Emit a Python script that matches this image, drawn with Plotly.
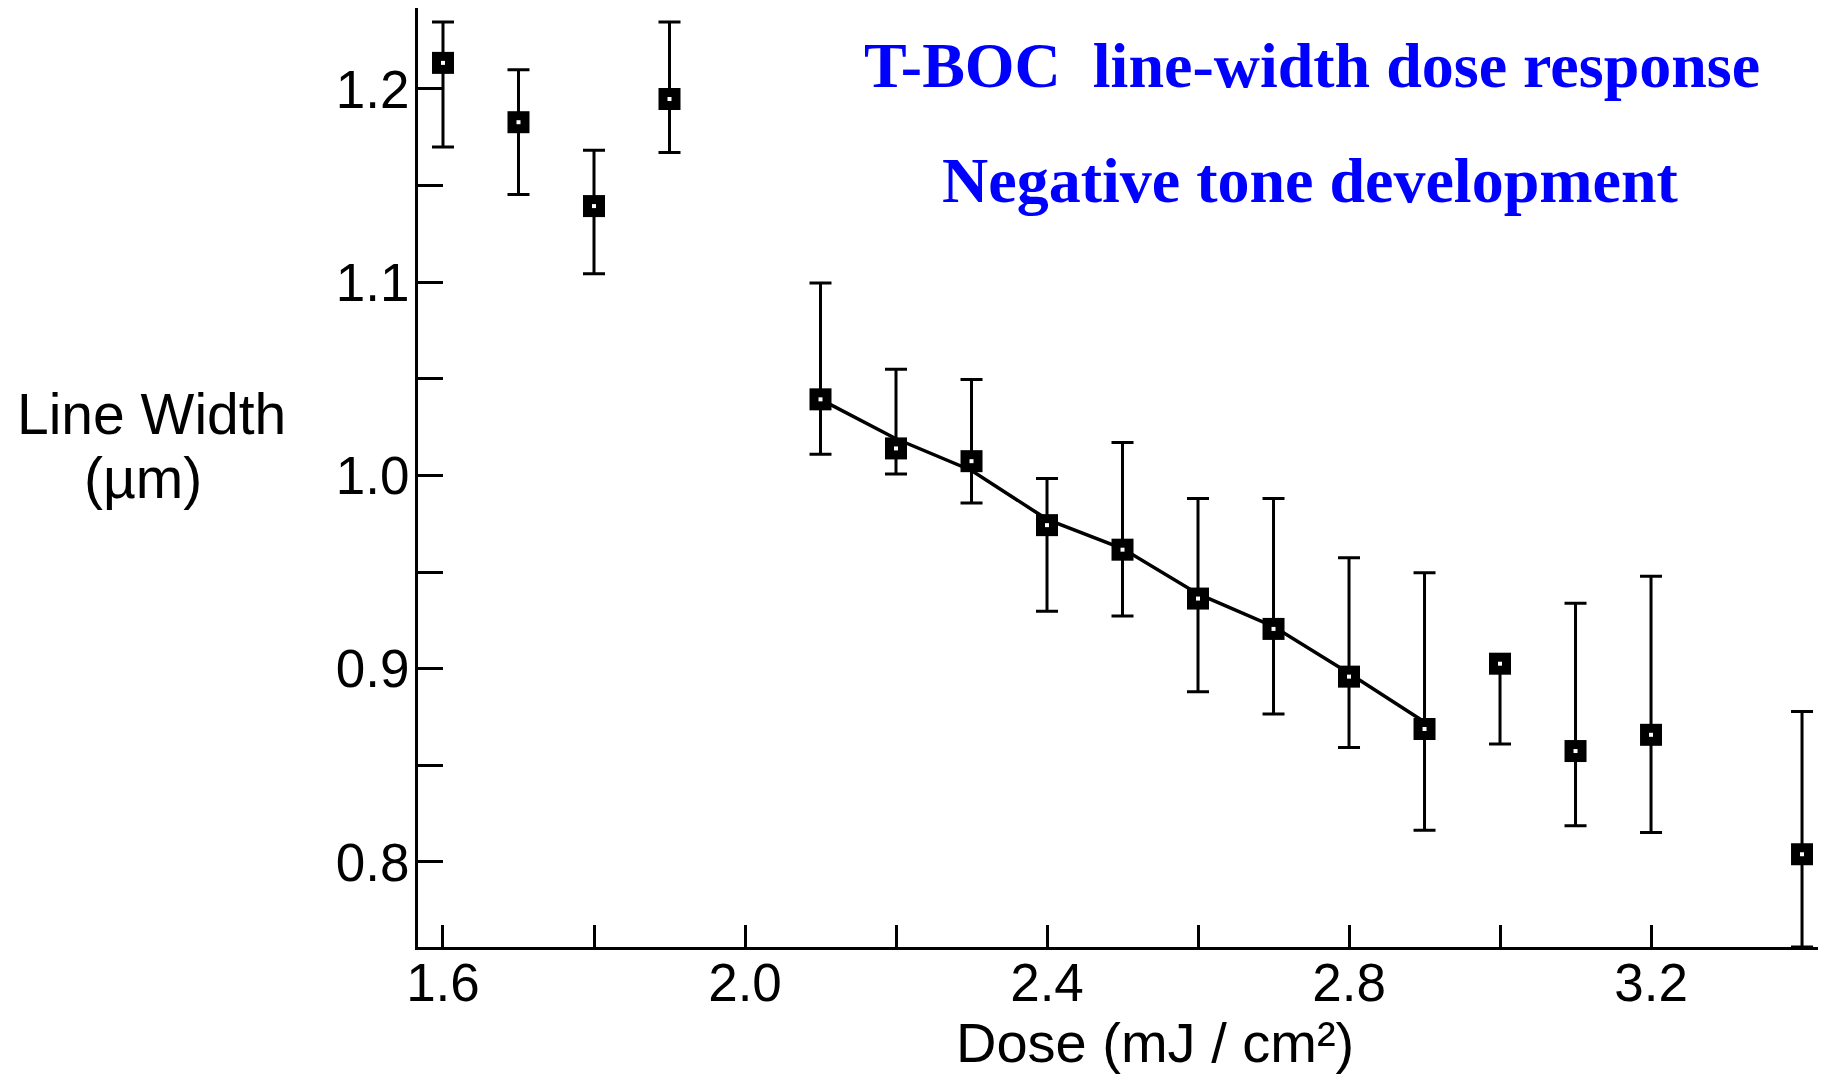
import plotly.graph_objects as go

# ---- data ----
dose = [1.6, 1.7, 1.8, 1.9, 2.1, 2.2, 2.3, 2.4, 2.5, 2.6, 2.7, 2.8, 2.9, 3.0, 3.1, 3.2, 3.4]
line_width = [1.2135, 1.1828, 1.1394, 1.1948, 1.0394, 1.0140, 1.0074, 0.9743, 0.9616, 0.9363,
              0.9206, 0.8959, 0.8688, 0.9026, 0.8574, 0.8658, 0.8040]
upper = [1.2347, 1.2099, 1.1683, 1.2346, 1.0996, 1.0550, 1.0496, 0.9984, 1.0171, 0.9881,
         0.9881, 0.9574, 0.9496, 0.9026, 0.9339, 0.9478, 0.8778]
lower = [1.1700, 1.1454, 1.1044, 1.1671, 1.0110, 1.0008, 0.9857, 0.9297, 0.9273, 0.8881,
         0.8766, 0.8592, 0.8164, 0.8610, 0.8188, 0.8152, 0.7560]

fit_dose = [2.1, 2.2, 2.3, 2.4, 2.5, 2.6, 2.7, 2.8, 2.9]
fit_lw = [1.0394, 1.0190, 1.0026, 0.9773, 0.9622, 0.9387, 0.9218, 0.8977, 0.8724]

x_tickvals = [1.6, 2.0, 2.4, 2.8, 3.2]
x_ticktext = ["1.6", "2.0", "2.4", "2.8", "3.2"]
x_minor_ticks = [1.8, 2.2, 2.6, 3.0]
y_tickvals = [0.8, 0.9, 1.0, 1.1, 1.2]
y_ticktext = ["0.8", "0.9", "1.0", "1.1", "1.2"]
y_minor_ticks = [0.85, 0.95, 1.05, 1.15]

title1 = "T-BOC\u00a0 line-width dose response"
title2 = "Negative tone development"

err_plus = [u - v for u, v in zip(upper, line_width)]
err_minus = [v - l for v, l in zip(line_width, lower)]

fig = go.Figure()

fig.add_trace(go.Scatter(
    x=fit_dose, y=fit_lw, mode="lines",
    line=dict(color="black", width=3.5), showlegend=False, hoverinfo="skip"))

fig.add_trace(go.Scatter(
    x=dose, y=line_width, mode="markers",
    marker=dict(symbol="square", size=22, color="black", line=dict(width=0)),
    error_y=dict(type="data", symmetric=False, array=err_plus, arrayminus=err_minus,
                 color="black", thickness=3, width=11),
    showlegend=False))

fig.add_trace(go.Scatter(
    x=dose, y=line_width, mode="markers",
    marker=dict(symbol="square", size=4, color="white", line=dict(width=0)),
    showlegend=False, hoverinfo="skip"))

tickfont = dict(family="Liberation Sans, Arial, sans-serif", size=53, color="black")

# The page body has an 8px margin, so the figure is sized/offset to compensate.
fig.update_layout(
    width=1818, height=1068,
    margin=dict(l=410, r=6, t=0, b=129),
    paper_bgcolor="white", plot_bgcolor="white",
    xaxis=dict(range=[1.5669, 3.4238], tickvals=x_tickvals, ticktext=x_ticktext,
               ticks="inside", ticklen=22, tickwidth=3, tickcolor="black",
               minor=dict(tickvals=x_minor_ticks, ticks="inside", ticklen=22,
                          tickwidth=3, tickcolor="black", showgrid=False),
               showline=True, linecolor="black", linewidth=3, showgrid=False,
               zeroline=False, tickfont=tickfont, ticklabelstandoff=-13),
    yaxis=dict(range=[0.756, 1.2419], tickvals=y_tickvals, ticktext=y_ticktext,
               ticks="inside", ticklen=25, tickwidth=3, tickcolor="black",
               minor=dict(tickvals=y_minor_ticks, ticks="inside", ticklen=25,
                          tickwidth=3, tickcolor="black", showgrid=False),
               showline=True, linecolor="black", linewidth=3, showgrid=False,
               zeroline=False, tickfont=tickfont, ticklabelstandoff=-5),
    font=dict(family="Liberation Sans, Arial, sans-serif", color="black"),
)

ann_font = dict(family="Liberation Sans, Arial, sans-serif", size=57, color="black")
xt_font = dict(family="Liberation Sans, Arial, sans-serif", size=56, color="black")
title_font = dict(family="Liberation Serif, Times New Roman, serif", size=64, color="#0000FF")

fig.add_annotation(text="Line Width", xref="paper", yref="paper", x=-0.1901, y=0.5676,
                   showarrow=False, font=ann_font, xanchor="center", yanchor="middle")
fig.add_annotation(text="(µm)", xref="paper", yref="paper", x=-0.1965, y=0.4990,
                   showarrow=False, font=ann_font, xanchor="center", yanchor="middle")
fig.add_annotation(text="Dose (mJ / cm²)", xref="paper", yref="paper",
                   x=0.526, y=-0.1020, showarrow=False, font=xt_font,
                   xanchor="center", yanchor="middle")
fig.add_annotation(text="<b>" + title1 + "</b>", xref="paper", yref="paper",
                   x=0.6377, y=0.9388, showarrow=False, font=title_font,
                   xanchor="center", yanchor="middle")
fig.add_annotation(text="<b>" + title2 + "</b>", xref="paper", yref="paper",
                   x=0.6368, y=0.816, showarrow=False, font=title_font,
                   xanchor="center", yanchor="middle")

fig.write_html("out.html")
